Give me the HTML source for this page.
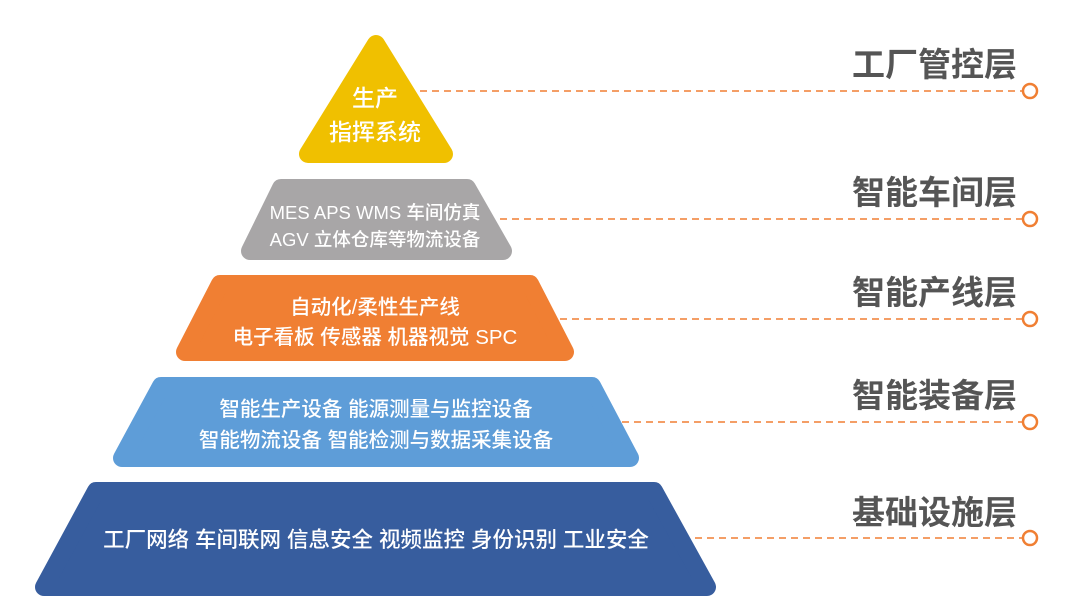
<!DOCTYPE html>
<html><head><meta charset="utf-8"><style>
html,body{margin:0;padding:0;background:#fff;}
svg{display:block}
.t{font-family:"Liberation Sans","Noto Sans CJK SC",sans-serif;fill:#fff;font-weight:500;text-anchor:middle}
.l{font-family:"Liberation Sans","Noto Sans CJK SC",sans-serif;fill:#555;font-weight:700;font-size:33px;text-anchor:end}
.d{stroke:#f07f33;stroke-width:1.6;stroke-dasharray:7 5;fill:none}
.c{stroke:#f07f33;stroke-width:2.5;fill:#fff}
</style></head><body>
<svg width="1080" height="609" viewBox="0 0 1080 609">
<g stroke-linejoin="round" stroke-width="18">
<polygon points="376,44 308,154 444,154" fill="#f0c000" stroke="#f0c000"/>
<polygon points="281,188 467,188 503,251 250,251" fill="#a8a6a7" stroke="#a8a6a7"/>
<polygon points="220,284 530,284 565,352 185,352" fill="#f07f33" stroke="#f07f33"/>
<polygon points="161,386 592,386 630,458 122,458" fill="#5e9dd8" stroke="#5e9dd8"/>
<polygon points="96,491 654,491 707,587 44,587" fill="#375d9e" stroke="#375d9e"/>
</g>
<line class="d" x1="420" y1="91" x2="1022" y2="91"/>
<line class="d" x1="500" y1="219" x2="1022" y2="219"/>
<line class="d" x1="560" y1="319" x2="1022" y2="319"/>
<line class="d" x1="622" y1="422" x2="1022" y2="422"/>
<line class="d" x1="695" y1="538" x2="1022" y2="538"/>
<circle class="c" cx="1030" cy="91" r="7"/>
<circle class="c" cx="1030" cy="219" r="7"/>
<circle class="c" cx="1030" cy="319" r="7"/>
<circle class="c" cx="1030" cy="422" r="7"/>
<circle class="c" cx="1030" cy="538" r="7"/>
<text class="l" x="1017" y="76">工厂管控层</text>
<text class="l" x="1017" y="204">智能车间层</text>
<text class="l" x="1017" y="304">智能产线层</text>
<text class="l" x="1017" y="407">智能装备层</text>
<text class="l" x="1017" y="524">基础设施层</text>
<text class="t" x="375" y="106" font-size="23">生产</text>
<text class="t" x="375" y="140" font-size="23">指挥系统</text>
<text class="t" x="375" y="219" font-size="18.5">MES APS WMS 车间仿真</text>
<text class="t" x="375" y="246" font-size="18.5">AGV 立体仓库等物流设备</text>
<text class="t" x="375" y="314" font-size="20.5">自动化/柔性生产线</text>
<text class="t" x="375" y="344" font-size="20.5">电子看板 传感器 机器视觉 SPC</text>
<text class="t" x="376" y="416" font-size="20.5">智能生产设备 能源测量与监控设备</text>
<text class="t" x="376" y="447" font-size="20.5">智能物流设备 智能检测与数据采集设备</text>
<text class="t" x="376" y="547" font-size="21.5">工厂网络 车间联网 信息安全 视频监控 身份识别 工业安全</text>
</svg>
</body></html>
